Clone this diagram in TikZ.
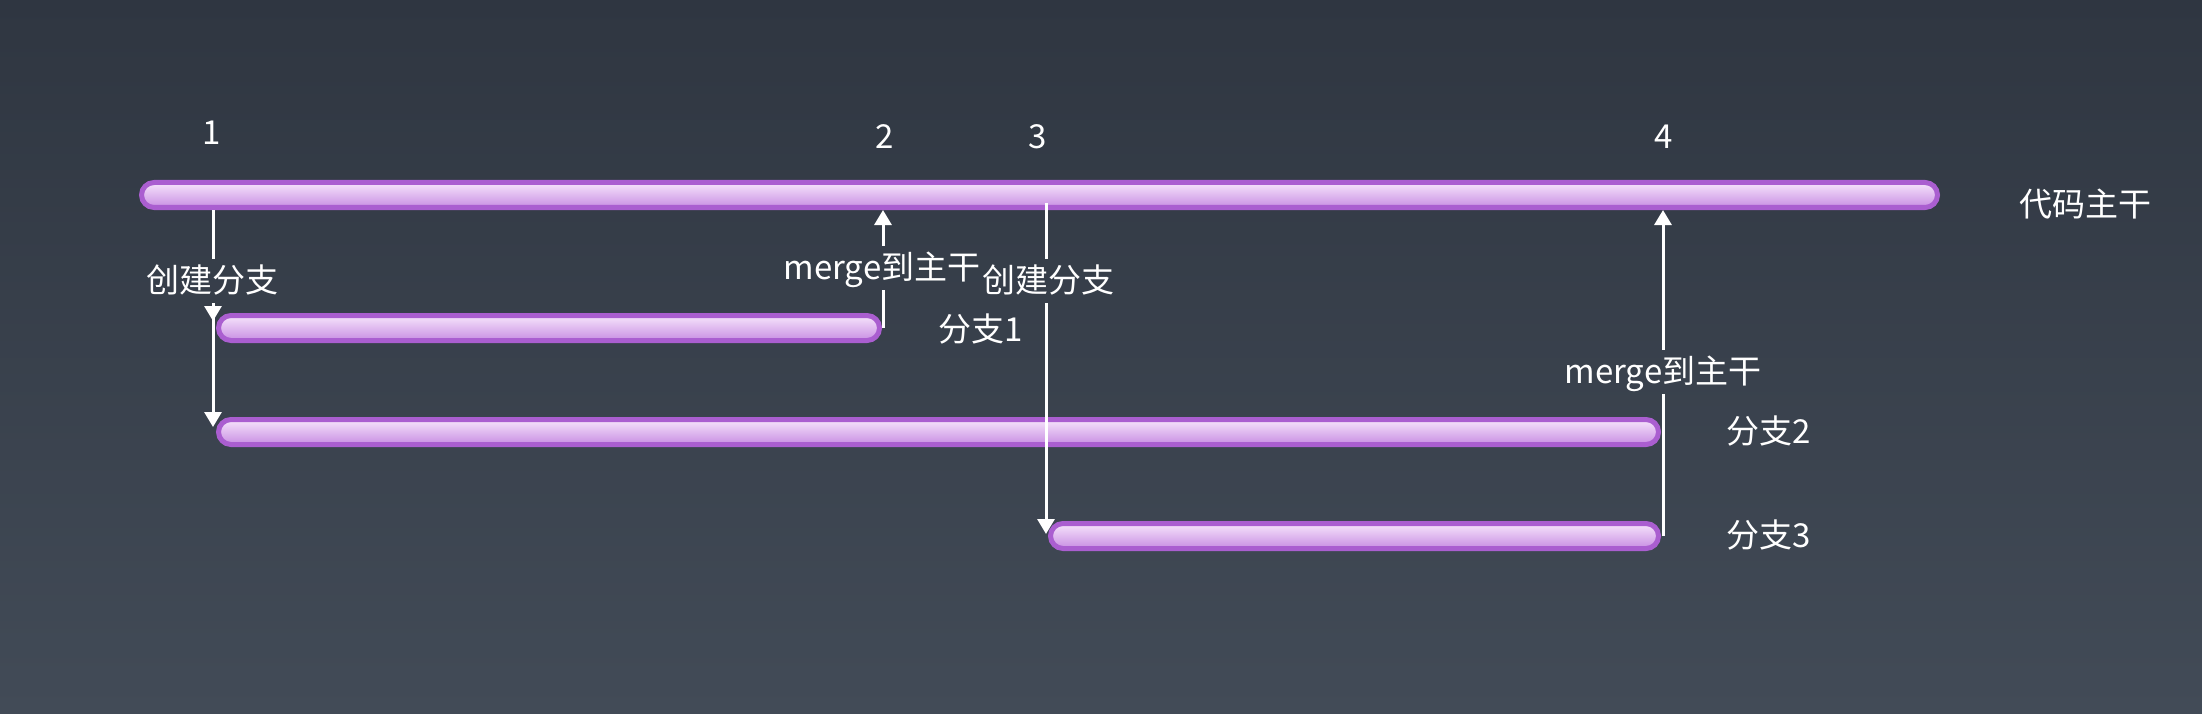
\documentclass[tikz,border=0pt]{standalone}
\usepackage{fontspec}
\setmainfont{Noto Sans CJK SC}
\usetikzlibrary{arrows.meta}
\definecolor{bgTop}{RGB}{47,54,65}
\definecolor{bgBot}{RGB}{66,75,87}
\definecolor{barBorder}{RGB}{170,94,208}
\definecolor{barTop}{RGB}{246,228,252}
\definecolor{barMid}{RGB}{222,180,240}
\definecolor{barBot}{RGB}{200,142,226}
\tikzset{
  bar/.style={draw=barBorder, line width=5pt, rounded corners=12.5pt,
    top color=barTop, middle color=barMid, bottom color=barBot,
    minimum height=25pt, inner sep=0pt},
  txt/.style={text=white, font=\fontsize{33}{40}\selectfont, inner sep=0pt},
  lbl/.style={text=white, font=\fontsize{33}{40}\selectfont, inner sep=5pt,
    text height=28pt, text depth=6pt},
  conn/.style={draw=white, line width=3pt},
  arr/.style={conn, -{Triangle[width=17pt,length=15pt]}}
}
\begin{document}
\begin{tikzpicture}[x=1pt,y=-1pt]
\shade[top color=bgTop, bottom color=bgBot] (0,0) rectangle (2202,714);
\useasboundingbox (0,0) rectangle (2202,714);

% bars
\node[bar, minimum width=1796pt] (main) at (1039.5,195) {};
\node[bar, minimum width=661pt] (b1) at (549,328) {};
\node[bar, minimum width=1440pt] (b2) at (938.5,432) {};
\node[bar, minimum width=608pt] (b3) at (1354.5,536) {};

% numbers and names
\node[txt] (n1) at (212,133) {1};
\node[txt] (n2) at (885,137) {2};
\node[txt] (n3) at (1038,137) {3};
\node[txt] (n4) at (1664,137) {4};
\node[txt] (mainname) at (2085,204) {代码主干};
\node[txt] (b1name) at (981,329) {分支1};
\node[txt] (b2name) at (1769,431) {分支2};
\node[txt] (b3name) at (1769,535) {分支3};

% connector labels
\node[lbl] (l1) at (212,281) {创建分支};
\node[lbl] (l2) at (882,268) {merge到主干};
\node[lbl] (l3) at (1048,281) {创建分支};
\node[lbl] (l4) at (1663,372) {merge到主干};

% connector end points
\coordinate (s1) at (213,210);
\coordinate (t1a) at (213,321);
\coordinate (t1b) at (213,427);
\coordinate (s2) at (883,328);
\coordinate (t2) at (883,210);
\coordinate (s3) at (1046,203);
\coordinate (t3) at (1046,534);
\coordinate (s4) at (1663,536);
\coordinate (t4) at (1663,210);

% connectors
\draw[conn] (s1) -- (s1 |- l1.north);
\draw[arr] (t1a |- l1.south) -- (t1a);
\draw[arr] (t1b |- l1.south) -- (t1b);

\draw[conn] (s2) -- (s2 |- l2.south);
\draw[arr] (t2 |- l2.north) -- (t2);

\draw[conn] (s3) -- (s3 |- l3.north);
\draw[arr] (t3 |- l3.south) -- (t3);

\draw[conn] (s4) -- (s4 |- l4.south);
\draw[arr] (t4 |- l4.north) -- (t4);
\end{tikzpicture}
\end{document}
